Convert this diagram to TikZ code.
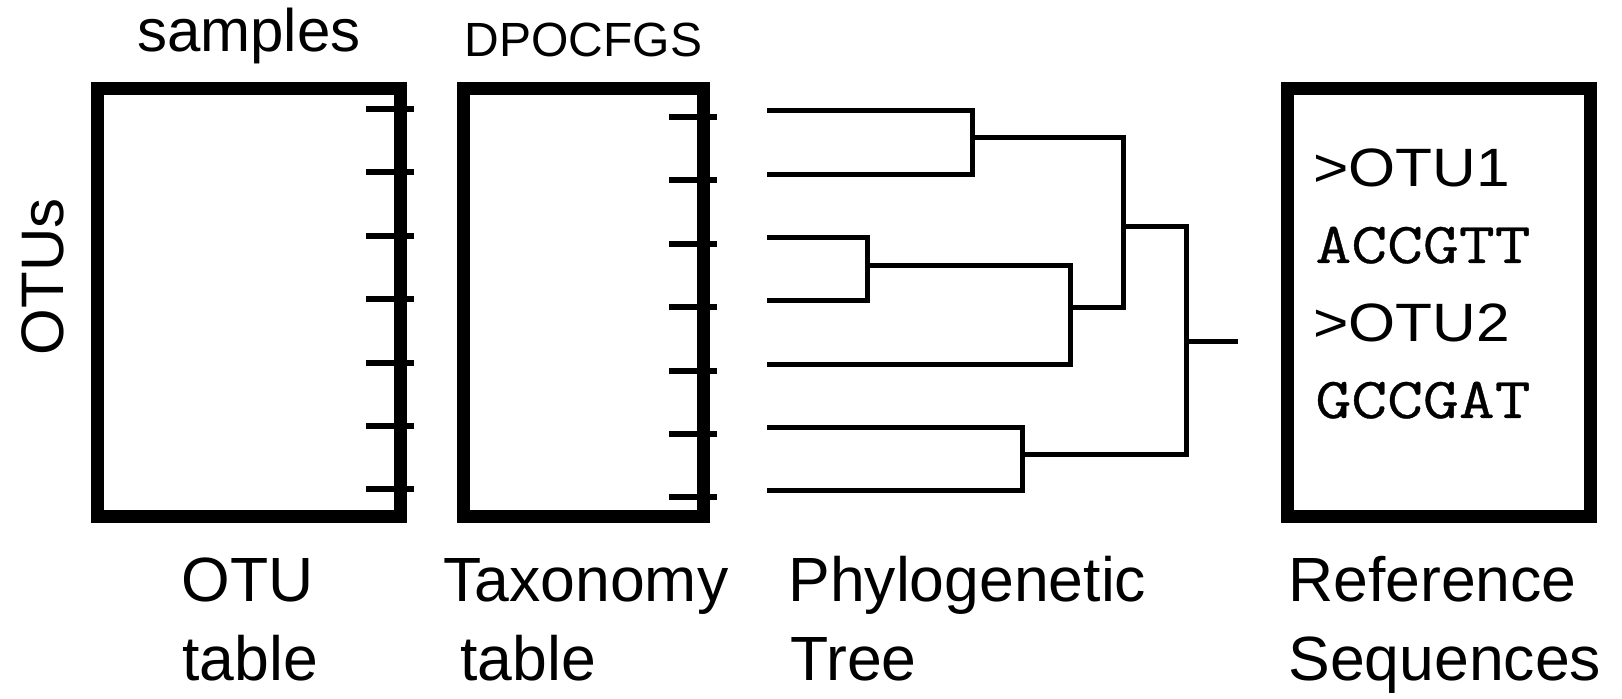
\documentclass[tikz,border=0pt]{standalone}
\usepackage{fontspec}
\setmainfont{Liberation Sans}
\newfontfamily\seqfont{Latin Modern Mono}[FakeBold=0.5]
\usepackage{tikz}

\tikzset{
    tablebox/.style={line width=6.5pt},
    tickmark/.style={line width=3pt},
    treeline/.style={line width=2.5pt},
    caption/.style={anchor=base west, inner sep=0pt, font=\fontsize{31.25}{37}\selectfont},
    seqname/.style={anchor=base west, inner sep=0pt, xscale=1.12, font=\fontsize{27}{32}\selectfont},
    seqcode/.style={anchor=base west, inner sep=0pt, xscale=1.2, font=\seqfont\fontsize{29}{34}\selectfont},
}

\begin{document}
\begin{tikzpicture}[x=0.5pt, y=-0.5pt]
                \useasboundingbox (0,0) rectangle (1622,699);
                % \draw[step=100, gray, very thin] (0,0) grid (1622,699);

                \begin{scope}
                    \pgfmathsetmacro{\ytop}{88.5}
                    \pgfmathsetmacro{\ybot}{517}

                    % the three boxes
                    \draw[tablebox] (97.5,\ytop) rectangle (400.5,\ybot);
                    \draw[tablebox] (463.5,\ytop) rectangle (703.5,\ybot);
                    \draw[tablebox] (1287.5,\ytop) rectangle (1590.5,\ybot);

                    \foreach \xr/\yo in {400.5/109,703.5/117} {
                            \foreach \i in {0,...,6} {
                                    \draw[tickmark] (\xr-34.5,\yo+63.4*\i) -- ++(48,0);
                                }
                        }
                \end{scope}

                % tree
                \foreach \i in {1,...,7} {
                        \coordinate (l\i) at (767,{111+63.33*(\i-1)});
                    }
                \coordinate (n12) at (972,138);
                \coordinate (n34) at (867,266);
                \coordinate (n345) at (1070,308);
                \coordinate (n12345) at (1123,227);
                \coordinate (n67) at (1022,455);
                \coordinate (root) at (1186,342);
                \coordinate (tip) at (1238,342);

                \draw[treeline] (l1) -| (n12) |- (l2);
                \draw[treeline] (l3) -| (n34) |- (l4);
                \draw[treeline] (n34) -| (n345) |- (l5);
                \draw[treeline] (n12) -| (n12345) |- (n345);
                \draw[treeline] (l6) -| (n67) |- (l7);
                \draw[treeline] (n12345) -| (root) |- (n67);
                \draw[treeline] (root) -- (tip);

                % labels
                \node[anchor=base, inner sep=0pt, font=\fontsize{30}{36}\selectfont] (samples) at (249,52) {samples};
                \node[anchor=base, inner sep=0pt, font=\fontsize{24}{29}\selectfont] (ranks) at (583.5,57) {DPOCFGS};
                \node[anchor=base, inner sep=0pt, rotate=90, font=\fontsize{30}{36}\selectfont] (otus) at (63,277) {OTUs};

                \node[caption] (otulab1) at (181,602) {OTU};
                \node[caption] (otulab2) at (182,680) {table};
                \node[caption] (taxlab1) at (443,602) {Taxonomy};
                \node[caption] (taxlab2) at (460,680) {table};
                \node[caption] (treelab1) at (788,602) {Phylogenetic};
                \node[caption] (treelab2) at (790,680) {Tree};
                \node[caption] (reflab1) at (1288,602) {Reference};
                \node[caption] (reflab2) at (1288,680) {Sequences};

                \node[seqname] (otu1) at (1313,187) {>OTU1};
                \node[seqcode] (seq1) at (1315,263) {ACCGTT};
                \node[seqname] (otu2) at (1313,342) {>OTU2};
                \node[seqcode] (seq2) at (1315,418) {GCCGAT};
            \end{tikzpicture}
\end{document}
